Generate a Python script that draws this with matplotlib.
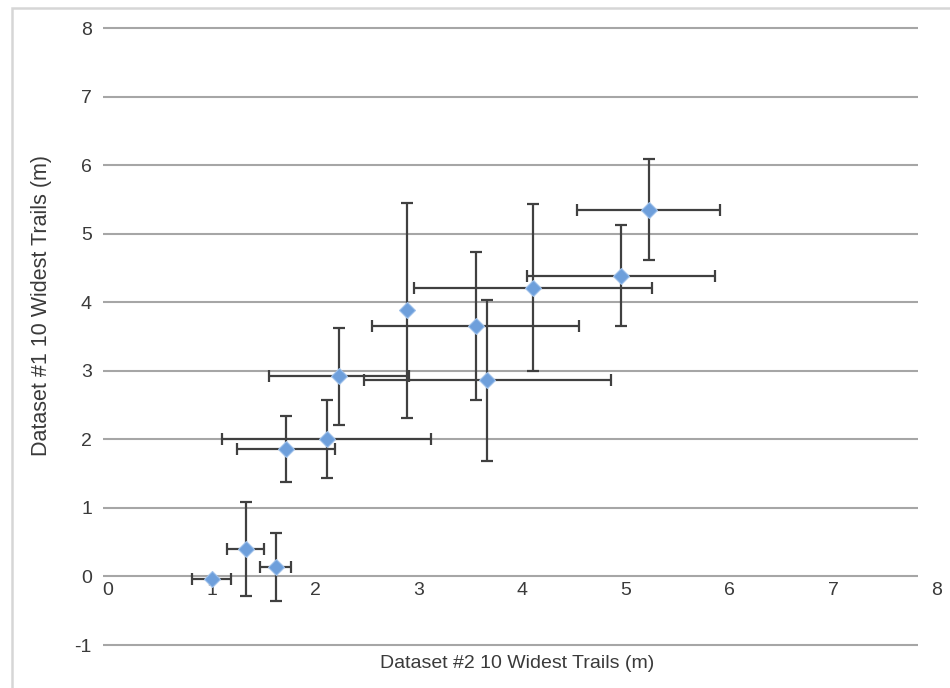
import matplotlib.pyplot as plt
from matplotlib.patches import Rectangle

# dataset #2 (x) vs dataset #1 (y), widest trails in metres
x = [1.00, 1.33, 1.62, 1.72, 2.11, 2.23, 2.89, 3.55, 3.66, 4.10, 4.95, 5.22]
y = [-0.03, 0.40, 0.14, 1.86, 2.01, 2.92, 3.88, 3.65, 2.86, 4.21, 4.39, 5.35]
xerr = [0.19, 0.18, 0.15, 0.47, 1.01, 0.68, 0.0, 1.00, 1.19, 1.15, 0.91, 0.69]
yerr = [0.0, 0.69, 0.50, 0.48, 0.57, 0.71, 1.57, 1.08, 1.17, 1.22, 0.73, 0.74]

xticks = [0, 1, 2, 3, 4, 5, 6, 7, 8]
yticks = [-1, 0, 1, 2, 3, 4, 5, 6, 7, 8]
xlabel = 'Dataset #2 10 Widest Trails (m)'
ylabel = 'Dataset #1 10 Widest Trails (m)'

plt.rcParams['font.family'] = ['Liberation Sans', 'DejaVu Sans']
plt.rcParams['axes.unicode_minus'] = False
txt_color = '#3a3a3a'

fig = plt.figure(figsize=(9.5, 6.88), dpi=100)
ax = fig.add_axes([103 / 950, 36 / 688, 837 / 950, 632 / 688])
ax.set_xlim(-0.048, 8.03)
ax.set_ylim(-1.102, 8.117)

# gridlines stop short of the last x label, like the original
ax.hlines(yticks, -0.048, 7.82, color='#a6a6a6', lw=1.5, zorder=1)

ax.errorbar(x, y, xerr=xerr, yerr=yerr, fmt='none', ecolor='#404040',
            elinewidth=1.6, capsize=4, capthick=1.6, zorder=3)
ax.plot(x, y, 'D', ms=8, mfc='#6e9fdb', mec='#9ec0ea', mew=0.8, zorder=4)

for s in ['top', 'right', 'left']:
    ax.spines[s].set_visible(False)
ax.spines['bottom'].set_position(('data', 0))
ax.spines['bottom'].set_visible(False)

ax.set_xticks(xticks)
ax.set_yticks(yticks)
ax.tick_params(axis='x', length=0, pad=4, labelsize=14, labelcolor=txt_color)
ax.tick_params(axis='y', length=0, pad=8, labelsize=14, labelcolor=txt_color)

fig.text(42 / 950, 1 - 305 / 688, ylabel, rotation=90, ha='center', va='center',
         fontsize=15.5, color=txt_color)
fig.text(517 / 950, 1 - 663 / 688, xlabel, ha='center', va='center',
         fontsize=14, color=txt_color)

# light outer frame of the chart area
fig.patches.append(Rectangle((12 / 950, -0.1), 1.0, 1.1 - 8 / 688,
                             transform=fig.transFigure, fill=False,
                             ec='#d6d6d6', lw=1.8))

fig.savefig('out.png', dpi=100)
